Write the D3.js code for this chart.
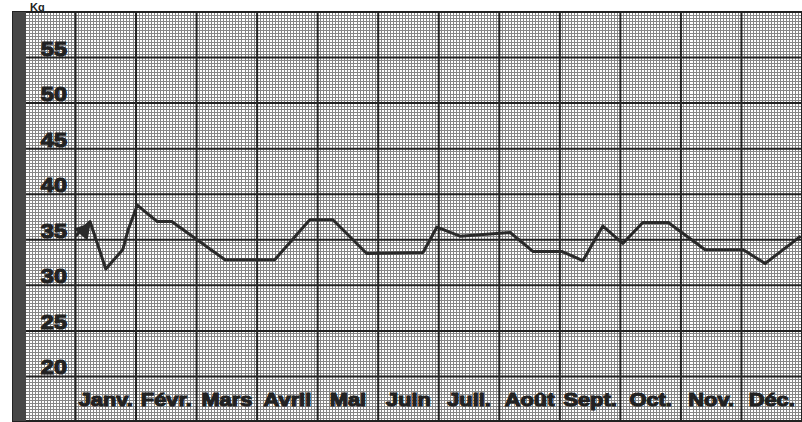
<!DOCTYPE html>
<html>
<head>
<meta charset="utf-8">
<script src="https://cdn.jsdelivr.net/npm/d3@7"></script>
<style>
  body { margin: 0; background: #fff; }
  svg { display: block; }
  text { font-family: "Liberation Sans", Arial, sans-serif; font-weight: bold; }
</style>
</head>
<body>
<div id="chart"></div>
<script>
// ----------------------------------
// DATA
// ----------------------------------
const months = ["Janv.", "Févr.", "Mars", "Avril", "Mai", "Juin", "Juil.", "Août", "Sept.", "Oct.", "Nov.", "Déc."];
const yTicks = [20, 25, 30, 35, 40, 45, 50, 55];
const unitLabel = "Kg";

// position in months from 1 Jan, and the value
const pointMonth = [0, 0.24, 0.5, 0.78, 0.87, 1.02, 1.35, 1.59, 2.47, 3.29, 3.87, 4.25, 4.81, 5.74, 5.97, 6.35, 7.18, 7.56, 8.04, 8.38, 8.71, 9.04, 9.37, 9.79, 10.4, 11.03, 11.39, 11.98];
const pointValue = [35.4, 37.0, 31.8, 33.9, 36.1, 38.8, 37.0, 37.0, 32.8, 32.8, 37.2, 37.2, 33.5, 33.6, 36.4, 35.4, 35.8, 33.7, 33.7, 32.7, 36.5, 34.6, 36.9, 36.9, 33.9, 33.9, 32.4, 35.4];

const width = 802, height = 422;
const barLeft = 13, labelLeft = 26, plotLeft = 75.5, frameTop = 12, frameBottom = 421;

const svg = d3.select("#chart").append("svg")
  .attr("width", width)
  .attr("height", height);

const x = d3.scaleLinear().domain([0, 12]).range([plotLeft, width]);
const y = d3.scaleLinear().domain([15, 60]).range([422, frameTop]);

// ----------------------------------
// GRAPH PAPER
// ----------------------------------
const minor = svg.append("g")
  .style("stroke", "#868686")
  .style("stroke-width", 1)
  .style("shape-rendering", "crispEdges");

// vertical minor lines, in the label column and in the plot
const labelCols = d3.range(labelLeft + 3, plotLeft, 3.03);
const plotCols = d3.range(0, 12, 1 / 20).map(d => x(d));
minor.selectAll("line.v")
  .data(labelCols.concat(plotCols))
  .enter().append("line")
    .attr("x1", d => d).attr("x2", d => d)
    .attr("y1", frameTop).attr("y2", frameBottom);

minor.selectAll("line.h")
  .data(d3.range(15, 60, 1 / 3))
  .enter().append("line")
    .attr("x1", labelLeft).attr("x2", width)
    .attr("y1", d => y(d)).attr("y2", d => y(d));

const major = svg.append("g")
  .style("stroke", "#222")
  .style("stroke-width", 2);

major.selectAll("line.v")
  .data(d3.range(0, 13))
  .enter().append("line")
    .attr("x1", d => x(d)).attr("x2", d => x(d))
    .attr("y1", frameTop).attr("y2", frameBottom);

major.selectAll("line.h")
  .data(yTicks)
  .enter().append("line")
    .attr("x1", labelLeft).attr("x2", width)
    .attr("y1", d => y(d)).attr("y2", d => y(d));

// frame
svg.append("rect")
  .attr("x", barLeft).attr("y", frameTop)
  .attr("width", width - barLeft).attr("height", frameBottom - frameTop)
  .style("fill", "none")
  .style("stroke", "#222")
  .style("stroke-width", 2);

// dark strip on the left
svg.append("rect")
  .attr("x", barLeft).attr("y", frameTop)
  .attr("width", labelLeft - barLeft).attr("height", frameBottom - frameTop)
  .style("fill", "#474747");

// ----------------------------------
// LABELS
// ----------------------------------
svg.append("g").selectAll("text")
  .data(yTicks)
  .enter().append("text")
    .attr("transform", d => `translate(67,${y(d) - 2}) scale(1.12,1)`)
    .attr("text-anchor", "end")
    .style("font-size", "21px")
    .style("fill", "#222")
    .style("stroke", "#222")
    .style("stroke-width", 1.1)
    .text(d => d);

svg.append("g").selectAll("text")
  .data(months)
  .enter().append("text")
    .attr("transform", (d, i) => `translate(${x(i + 0.5)},406) scale(1.18,1)`)
    .attr("text-anchor", "middle")
    .style("font-size", "18.5px")
    .style("fill", "#222")
    .style("stroke", "#222")
    .style("stroke-width", 1.1)
    .text(d => d);

svg.append("text")
  .attr("x", 30)
  .attr("y", 10.5)
  .style("font-size", "11px")
  .style("fill", "#222")
  .text(unitLabel);

// ----------------------------------
// THE CURVE
// ----------------------------------
const points = pointMonth.map((m, i) => ({ m: m, v: pointValue[i] }));

const line = d3.line()
  .x(d => x(d.m))
  .y(d => y(d.v));

svg.append("path")
  .datum(points)
  .attr("d", line)
  .style("fill", "none")
  .style("stroke", "#2a2a2a")
  .style("stroke-width", 3)
  .style("stroke-linejoin", "round");

// blot at the start of the curve
svg.append("path")
  .attr("d", d3.symbol(d3.symbolTriangle, 140)())
  .attr("transform", `translate(${x(0.14)},${y(36.0)}) rotate(40)`)
  .style("fill", "#2a2a2a");
</script>
</body>
</html>
